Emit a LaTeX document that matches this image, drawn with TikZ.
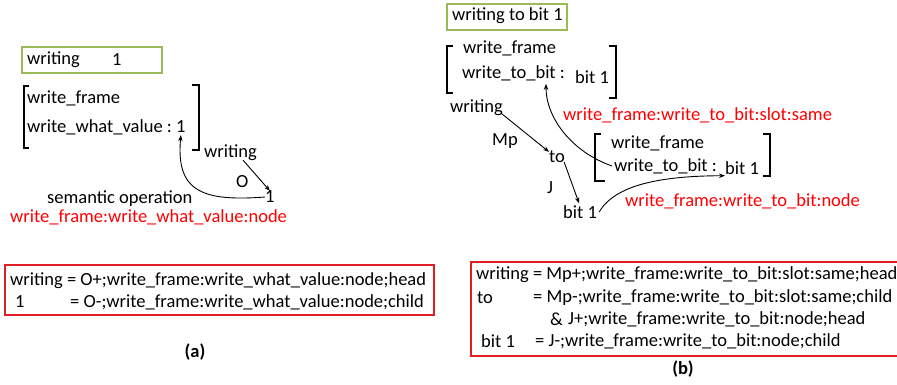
\documentclass[tikz,border=0pt]{standalone}
\usepackage{fontspec}
\setmainfont{Carlito}
\usetikzlibrary{arrows.meta}
\definecolor{boxgreen}{RGB}{155,187,89}
\definecolor{boxred}{RGB}{224,30,36}
\definecolor{txtred}{RGB}{255,0,0}
\tikzset{
  lbl/.style={anchor=west,inner sep=0pt,font=\fontsize{18.5}{22}\selectfont},
  redlbl/.style={lbl,text=txtred},
  caplbl/.style={anchor=center,inner sep=0pt,font=\fontsize{18.5}{22}\selectfont\bfseries},
  arr/.style={-{Stealth[length=6pt,width=4.5pt]},line width=0.9pt},
  brk/.style={line width=1.2pt},
  greenbox/.style={draw=boxgreen,line width=1.5pt},
  redbox/.style={draw=boxred,line width=1.3pt},
}
\begin{document}
\begin{tikzpicture}[x=1pt,y=-1pt]
\useasboundingbox (0,0) rectangle (897,385);
\clip (0,0) rectangle (897,385);

% ---------- (a) ----------
\draw[greenbox] (22,47) rectangle (162,73);
\node[lbl] (ga) at (27,60) {writing};
\node[lbl] (gb) at (112,60) {1};

\draw[brk] (29,86) -- (24,86) -- (24,148) -- (29,148);
\draw[brk] (192,85) -- (199,85) -- (199,150) -- (192,150);
\node[lbl] (wf) at (27,98) {write\_frame};
\node[lbl] (wv) at (27,127) {write\_what\_value :};
\node[lbl] (v1) at (176,127) {1};

\node[lbl] (aw) at (204,153) {writing};
\node[lbl] (ao) at (236,182) {O};
\node[lbl] (a1) at (265,197) {1};
\draw[arr] ([xshift=-14pt,yshift=1pt]aw.south east) -- (a1.north);
\draw[arr] (a1.west) .. controls (200,202) and (176,190) .. ([yshift=-2pt]v1.south);

\node[lbl] (sem) at (47,199) {semantic operation};
\node[redlbl] (sa) at (10,217) {write\_frame:write\_what\_value:node};

\draw[redbox] (5,265) rectangle (434,315);
\node[lbl] (ra1) at (10,281) {writing = O+;write\_frame:write\_what\_value:node;head};
\node[lbl] (ra2) at (15,302) {1};
\node[lbl] (ra3) at (70,302) {= O-;write\_frame:write\_what\_value:node;child};
\node[caplbl] (capa) at (195,352) {(a)};

% ---------- (b) ----------
\draw[greenbox] (447,4) rectangle (567,30);
\node[lbl] (gt) at (452,16) {writing to bit 1};

\draw[brk] (453,46) -- (447,46) -- (447,93) -- (453,93);
\draw[brk] (609,46) -- (616,46) -- (616,98) -- (609,98);
\node[lbl] (bf1) at (463,48) {write\_frame};
\node[lbl] (bt1) at (462,73) {write\_to\_bit :};
\node[lbl] (bv1) at (575,77) {bit 1};

\node[lbl] (bw) at (450,108) {writing};
\node[lbl] (bmp) at (492,141) {Mp};
\node[lbl] (bto) at (549,157) {to};
\node[lbl] (bj) at (547,188) {J};
\node[lbl] (bb) at (563,212) {bit 1};
\draw[arr] ([xshift=-2pt,yshift=3pt]bw.south east) -- ([yshift=-1pt]bto.north west);
\draw[arr] ([xshift=-1pt,yshift=1pt]bto.south east) -- ([xshift=-1pt,yshift=2pt]bb.north);

\node[redlbl] (sb1) at (563,115) {write\_frame:write\_to\_bit:slot:same};

\draw[brk] (601,134) -- (595,134) -- (595,181) -- (605,181);
\draw[brk] (763,134) -- (770,134) -- (770,176) -- (763,176);
\node[lbl] (bf2) at (611,143) {write\_frame};
\node[lbl] (bt2) at (614,166) {write\_to\_bit :};
\node[lbl] (bv2) at (725,168) {bit 1};

\node[redlbl] (sb2) at (625,201) {write\_frame:write\_to\_bit:node};

\draw[arr] ([xshift=-2pt]bt2.west) .. controls (572,152) and (546,118) .. ([xshift=-19pt,yshift=-3pt]bt1.south east);
\draw[arr] ([xshift=2pt]bb.east) .. controls (615,185) and (660,176) .. ([yshift=-1pt]bv2.south west);

\draw[redbox] (471,262) rectangle (905,356);
\node[lbl] (rb1) at (476,275) {writing = Mp+;write\_frame:write\_to\_bit:slot:same;head};
\node[lbl] (rb2) at (477,298) {to};
\node[lbl] (rb3) at (533,298) {= Mp-;write\_frame:write\_to\_bit:slot:same;child};
\node[lbl] (rb4) at (550,319) {\&};
\node[lbl] (rb5) at (568,319) {J+;write\_frame:write\_to\_bit:node;head};
\node[lbl] (rb6) at (481,341) {bit 1};
\node[lbl] (rb7) at (535,341) {= J-;write\_frame:write\_to\_bit:node;child};
\node[caplbl] (capb) at (683,369) {(b)};
\end{tikzpicture}
\end{document}
